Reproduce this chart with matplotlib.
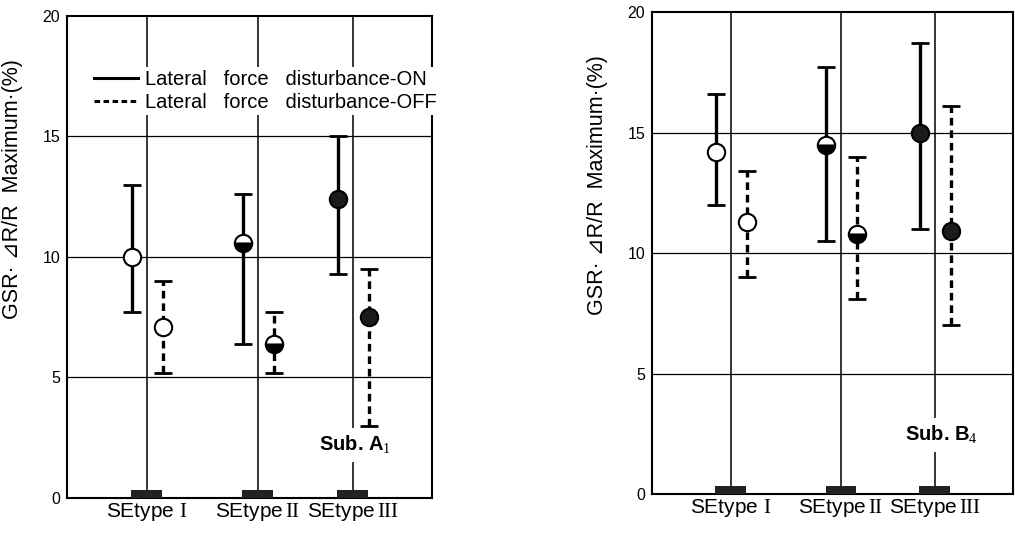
import numpy as np
import matplotlib
matplotlib.use('Agg')
import matplotlib.pyplot as plt
from matplotlib.lines import Line2D

plt.rcParams['font.family'] = ['Liberation Sans', 'DejaVu Sans']
plt.rcParams['mathtext.fontset'] = 'custom'
plt.rcParams['mathtext.rm'] = 'Liberation Serif'
plt.rcParams['mathtext.it'] = 'Liberation Sans:italic'
plt.rcParams['lines.scale_dashes'] = False

# data
categories = [r'SEtype $\mathrm{I}$', r'SEtype$\,\mathrm{II}$', r'SEtype$\,\mathrm{III}$']
fills = ['none', 'bottom', 'full']  # open / half / filled circles

A_on_mean = [10.0, 10.6, 12.4]
A_on_hi = [13.0, 12.6, 15.0]
A_on_lo = [7.7, 6.4, 9.3]
A_off_mean = [7.1, 6.4, 7.5]
A_off_hi = [9.0, 7.7, 9.5]
A_off_lo = [5.2, 5.2, 3.0]

B_on_mean = [14.2, 14.5, 15.0]
B_on_hi = [16.6, 17.7, 18.7]
B_on_lo = [12.0, 10.5, 11.0]
B_off_mean = [11.3, 10.8, 10.9]
B_off_hi = [13.4, 14.0, 16.1]
B_off_lo = [9.0, 8.1, 7.0]

cat_x = [0.218, 0.523, 0.783]
dx_on = -0.04
dx_off = 0.045
dash = (0, (5.5, 3.5))

fig = plt.figure(figsize=(10.15, 5.44), dpi=100)
axA = fig.add_axes([0.066, 0.0846, 0.3596, 0.886])
axB = fig.add_axes([0.6424, 0.0919, 0.3557, 0.886])


def draw_series(ax, mean, lo, hi, dx, dashed):
    for i in range(len(mean)):
        x = cat_x[i] + dx
        err = [[mean[i] - lo[i]], [hi[i] - mean[i]]]
        eb = ax.errorbar([x], [mean[i]], yerr=err, fmt='none', ecolor='black',
                         elinewidth=2.4, capsize=6.5, capthick=2.0, zorder=4)
        if dashed:
            eb[2][0].set_linestyle(dash)
        if fills[i] == 'none':
            ax.plot(x, mean[i], 'o', ms=12.5, mfc='white', mec='black', mew=1.5, zorder=5)
        elif fills[i] == 'bottom':
            ax.plot(x, mean[i], 'o', ms=12.5, fillstyle='bottom', mfc='black',
                    mfcalt='white', mec='black', mew=1.5, zorder=5)
        else:
            ax.plot(x, mean[i], 'o', ms=12.5, mfc='#1a1a1a', mec='black', mew=1.5, zorder=5)


def setup(ax, label, xlab):
    ax.set_xlim(0, 1)
    ax.set_ylim(0, 20)
    ax.set_yticks([0, 5, 10, 15, 20])
    ax.set_yticklabels(['0', '5', '10', '15', '20'], fontsize=11.5)
    ax.set_xticks(cat_x)
    ax.set_xticklabels(categories, fontsize=15)
    ax.tick_params(length=0, pad=5)
    ax.tick_params(axis='x', pad=2)
    for y in [5, 10, 15]:
        ax.axhline(y, color='black', lw=0.9, zorder=1)
    for x in cat_x:
        ax.axvline(x, color='black', lw=1.1, zorder=1)
    ax.bar(cat_x, 0.33, width=0.085, color='#222222', zorder=3)
    for s in ax.spines.values():
        s.set_linewidth(1.5)
    ax.set_ylabel('GSR· ⊿R/R  Maximum·(%)', fontsize=15.5)
    ax.yaxis.set_label_coords(xlab, 0.64)
    ax.text(label[0], label[1], label[2], fontsize=14.5, fontweight='bold',
            ha='left', va='center', zorder=6,
            bbox=dict(facecolor='white', edgecolor='none', pad=4))


draw_series(axA, A_on_mean, A_on_lo, A_on_hi, dx_on, False)
draw_series(axA, A_off_mean, A_off_lo, A_off_hi, dx_off, True)
setup(axA, (0.69, 2.2, 'Sub. A$_{1}$'), -0.12)

draw_series(axB, B_on_mean, B_on_lo, B_on_hi, dx_on, False)
draw_series(axB, B_off_mean, B_off_lo, B_off_hi, dx_off, True)
setup(axB, (0.70, 2.45, 'Sub. B$_{4}$'), -0.122)

handles = [Line2D([], [], color='black', lw=2.2),
           Line2D([], [], color='black', lw=2.2, ls=(0, (4, 2.5)))]
leg = axA.legend(handles, ['Lateral   force   disturbance-ON', 'Lateral   force   disturbance-OFF'],
                 loc='upper left', bbox_to_anchor=(0.065, 0.895), fontsize=14.5,
                 frameon=True, framealpha=1, facecolor='white', edgecolor='none',
                 handlelength=2.2, handletextpad=0.35, labelspacing=0.2,
                 borderpad=0.15, borderaxespad=0)
leg.set_zorder(6)

fig.savefig('out.png', dpi=100)
